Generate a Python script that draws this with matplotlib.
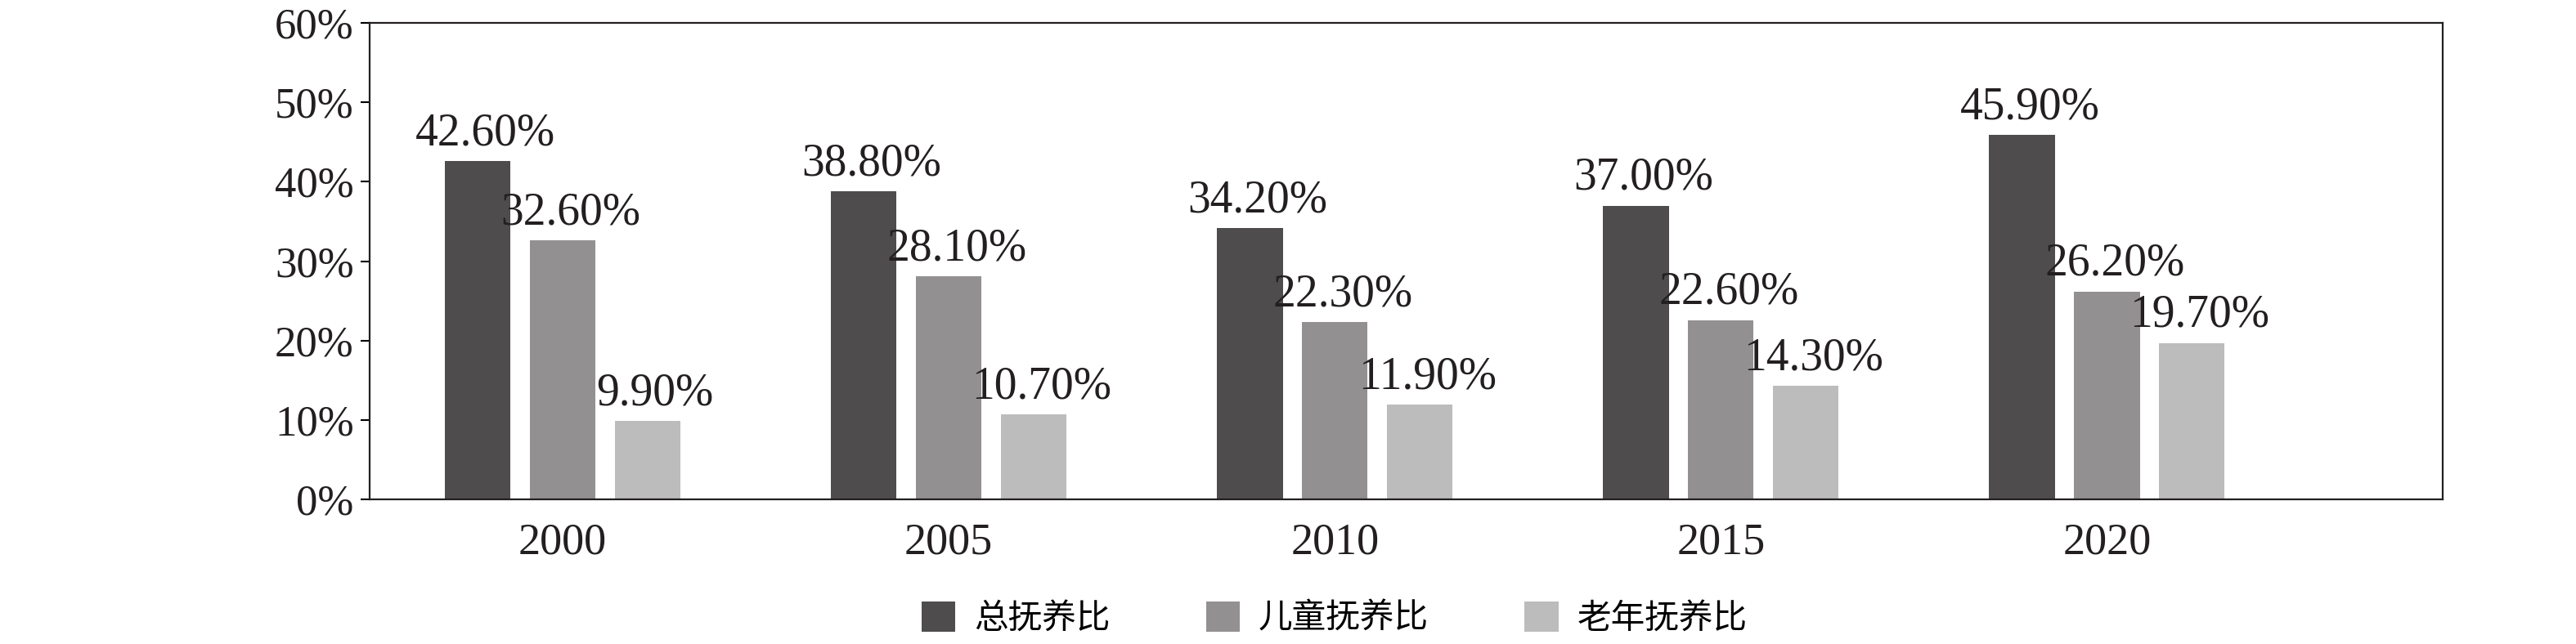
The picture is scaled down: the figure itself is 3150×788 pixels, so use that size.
import matplotlib.pyplot as plt
import numpy as np

# ---------------- DATA ----------------
years = ["2000", "2005", "2010", "2015", "2020"]
total_ratio = [42.6, 38.8, 34.2, 37.0, 45.9]
child_ratio = [32.6, 28.1, 22.3, 22.6, 26.2]
old_ratio = [9.9, 10.7, 11.9, 14.3, 19.7]
series_names = ["总抚养比", "儿童抚养比", "老年抚养比"]
y_ticks = [0, 10, 20, 30, 40, 50, 60]

colors = ["#4e4c4d", "#929091", "#bcbcbc"]
serif = ["Liberation Serif", "DejaVu Serif"]
cjk = ["Noto Sans CJK SC", "DejaVu Sans"]

# ---------------- PLOT ----------------
fig = plt.figure(figsize=(31.5, 7.88), dpi=100)
ax = fig.add_axes([0.1435, 0.2245, 0.8048, 0.7398])

x = np.arange(len(years))
w = 0.17
offsets = [-0.22, 0.0, 0.22]

for vals, off, c, name in zip([total_ratio, child_ratio, old_ratio], offsets, colors, series_names):
    bars = ax.bar(x + off, vals, width=w, color=c, label=name)
    for b, v in zip(bars, vals):
        ax.text(b.get_x() + b.get_width() / 2 + 0.02, v + 0.8, f"{v:.2f}%",
                ha="center", va="bottom", fontsize=40, family=serif, color="#231f20")

ax.set_xlim(-0.5, 4.87)
ax.set_ylim(0, 60)
ax.set_yticks(y_ticks)
ax.set_yticklabels([f"{t}%" for t in y_ticks], family=serif, fontsize=38, color="#231f20")
ax.set_xticks(x)
ax.set_xticklabels(years, family=serif, fontsize=39, color="#231f20")
ax.tick_params(axis="x", length=0, pad=20)
ax.tick_params(axis="y", length=8, width=1.5, direction="out", pad=6)

for s in ax.spines.values():
    s.set_linewidth(1.6)
    s.set_color("#231f20")

# ---------------- LEGEND ----------------
fig.legend(loc="center", bbox_to_anchor=(0.518, 0.04), ncol=3, frameon=False,
           prop={"family": cjk, "size": 30}, handlelength=1.0, handleheight=1.0,
           columnspacing=2.8, handletextpad=0.55)

fig.savefig("out.png", dpi=100, facecolor="white")
